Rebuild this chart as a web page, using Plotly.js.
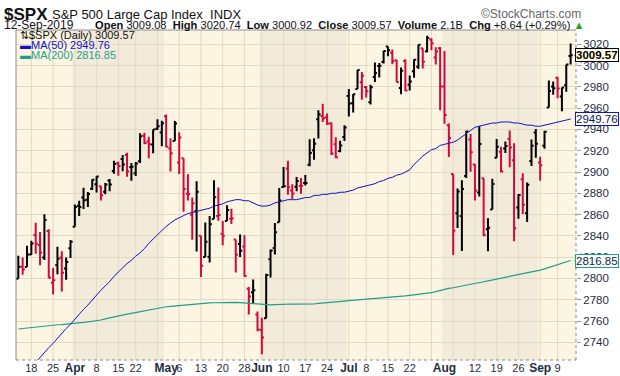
<!DOCTYPE html>
<html><head><meta charset="utf-8">
<script src="https://cdn.plot.ly/plotly-3.0.1.min.js"></script>
<style>html,body{margin:0;padding:0;background:#fff}#chart{width:620px;height:376px}</style>
</head><body><div id="chart"></div>
<script>
const dates = [
"2019-03-13","2019-03-14","2019-03-15","2019-03-18","2019-03-19","2019-03-20","2019-03-21","2019-03-22","2019-03-25","2019-03-26","2019-03-27","2019-03-28","2019-03-29",
"2019-04-01","2019-04-02","2019-04-03","2019-04-04","2019-04-05","2019-04-08","2019-04-09","2019-04-10","2019-04-11","2019-04-12","2019-04-15","2019-04-16","2019-04-17","2019-04-18","2019-04-22","2019-04-23","2019-04-24","2019-04-25","2019-04-26","2019-04-29","2019-04-30",
"2019-05-01","2019-05-02","2019-05-03","2019-05-06","2019-05-07","2019-05-08","2019-05-09","2019-05-10","2019-05-13","2019-05-14","2019-05-15","2019-05-16","2019-05-17","2019-05-20","2019-05-21","2019-05-22","2019-05-23","2019-05-24","2019-05-28","2019-05-29","2019-05-30","2019-05-31",
"2019-06-03","2019-06-04","2019-06-05","2019-06-06","2019-06-07","2019-06-10","2019-06-11","2019-06-12","2019-06-13","2019-06-14","2019-06-17","2019-06-18","2019-06-19","2019-06-20","2019-06-21","2019-06-24","2019-06-25","2019-06-26","2019-06-27","2019-06-28",
"2019-07-01","2019-07-02","2019-07-03","2019-07-05","2019-07-08","2019-07-09","2019-07-10","2019-07-11","2019-07-12","2019-07-15","2019-07-16","2019-07-17","2019-07-18","2019-07-19","2019-07-22","2019-07-23","2019-07-24","2019-07-25","2019-07-26","2019-07-29","2019-07-30","2019-07-31",
"2019-08-01","2019-08-02","2019-08-05","2019-08-06","2019-08-07","2019-08-08","2019-08-09","2019-08-12","2019-08-13","2019-08-14","2019-08-15","2019-08-16","2019-08-19","2019-08-20","2019-08-21","2019-08-22","2019-08-23","2019-08-26","2019-08-27","2019-08-28","2019-08-29","2019-08-30",
"2019-09-03","2019-09-04","2019-09-05","2019-09-06","2019-09-09","2019-09-10","2019-09-11","2019-09-12"];

const openP = [
2799.78,2811.02,2810.79,2822.61,2840.76,2831.34,2819.72,2844.52,2796.01,2812.66,2819.72,2809.40,2828.27,
2848.63,2868.24,2876.09,2873.99,2884.16,2888.46,2886.58,2881.37,2891.92,2900.86,2908.32,2912.26,2916.04,2904.81,2898.78,2909.99,2934.00,2928.99,2925.81,2940.58,2937.14,
2952.33,2922.16,2929.21,2908.89,2913.03,2879.61,2859.84,2863.10,2840.19,2820.12,2820.38,2855.80,2858.60,2841.94,2854.02,2856.06,2836.70,2832.41,2830.03,2790.25,2786.94,2766.15,
2751.53,2762.64,2818.09,2828.51,2852.87,2885.83,2903.27,2882.73,2886.24,2886.82,2889.75,2906.71,2920.55,2949.60,2952.71,2951.42,2945.78,2926.07,2919.66,2932.94,
2971.41,2964.66,2978.08,2984.25,2979.77,2965.52,2989.30,2999.62,3003.36,3017.80,3012.13,3005.10,2978.87,3004.26,2981.93,2994.74,2998.77,3016.26,3013.25,3024.47,3007.66,3016.22,
2980.32,2943.90,2898.07,2861.18,2858.65,2896.21,2930.51,2907.07,2880.72,2894.15,2846.20,2864.74,2913.48,2919.01,2922.04,2930.94,2911.07,2866.70,2893.14,2861.28,2910.37,2937.09,
2909.01,2924.67,2960.60,2980.33,2988.43,2971.01,2981.41,3009.08];

const highP = [
2821.24,2819.72,2830.73,2835.41,2852.42,2843.54,2860.31,2846.16,2809.79,2829.87,2825.56,2819.71,2836.03,
2869.40,2872.90,2885.25,2881.28,2893.24,2895.95,2886.88,2889.71,2893.42,2910.54,2909.60,2916.06,2918.00,2908.40,2909.51,2936.31,2936.83,2933.10,2939.88,2949.52,2948.22,
2954.13,2931.68,2947.85,2937.32,2913.03,2897.96,2875.97,2891.31,2840.19,2852.54,2858.68,2892.15,2885.48,2853.86,2868.88,2865.47,2836.70,2841.36,2840.51,2792.03,2799.00,2768.98,
2763.07,2804.49,2827.28,2852.10,2884.97,2904.77,2910.61,2888.57,2895.24,2894.45,2897.27,2930.79,2931.74,2958.06,2964.15,2954.92,2946.52,2932.59,2929.30,2943.98,
2977.93,2973.21,2995.84,2994.03,2980.76,2981.90,3002.98,3002.33,3013.92,3017.80,3015.02,3005.26,2998.28,3006.02,2990.71,3005.90,3019.59,3016.31,3027.98,3025.61,3017.19,3017.40,
3013.59,2945.50,2898.07,2884.40,2892.17,2938.72,2935.75,2907.58,2943.31,2894.15,2856.67,2893.63,2931.00,2923.63,2928.73,2939.08,2927.01,2879.27,2898.79,2890.03,2930.50,2940.43,
2914.39,2938.84,2985.86,2985.03,2989.43,2979.39,3000.93,3020.74];

const lowP = [
2799.78,2803.46,2810.79,2821.99,2823.27,2812.43,2817.38,2800.53,2785.02,2803.99,2787.72,2798.77,2819.23,
2848.63,2858.75,2865.17,2867.14,2882.99,2880.78,2873.33,2879.13,2881.99,2898.37,2896.48,2900.71,2895.45,2891.90,2896.35,2908.53,2926.05,2912.84,2917.56,2939.35,2924.11,
2923.36,2900.50,2929.21,2898.21,2862.60,2873.28,2836.40,2825.39,2801.43,2820.12,2815.08,2855.80,2854.23,2831.29,2854.02,2851.11,2805.49,2820.19,2801.58,2766.06,2776.74,2750.52,
2728.81,2762.64,2800.92,2822.45,2852.87,2885.51,2878.53,2874.68,2881.99,2879.62,2887.30,2905.44,2911.43,2931.50,2946.87,2944.05,2916.01,2912.99,2918.57,2929.05,
2952.22,2955.92,2977.96,2967.97,2970.09,2963.44,2984.62,2988.80,3001.87,3008.77,3001.15,2984.25,2973.09,2975.86,2976.65,2988.56,2996.82,2997.24,3012.59,3014.30,3000.94,2958.08,
2945.23,2914.11,2822.12,2847.42,2825.71,2894.47,2900.15,2873.14,2877.05,2839.64,2825.51,2864.74,2913.48,2899.60,2917.91,2904.51,2834.97,2856.00,2860.59,2853.05,2905.67,2913.32,
2891.85,2921.86,2960.60,2972.51,2969.39,2957.01,2975.31,3000.92];

const closeP = [
2810.92,2808.48,2822.48,2832.94,2832.57,2824.23,2854.88,2800.71,2798.36,2818.46,2805.37,2815.44,2834.40,
2867.19,2867.24,2873.40,2879.39,2892.74,2895.77,2878.20,2888.21,2888.32,2907.41,2905.58,2907.06,2900.45,2905.03,2907.97,2933.68,2927.25,2926.17,2939.88,2943.03,2945.83,
2923.73,2917.52,2945.64,2932.47,2884.05,2879.42,2870.72,2881.40,2811.87,2834.41,2850.96,2876.32,2859.53,2840.23,2864.36,2856.27,2822.24,2826.06,2802.39,2783.02,2788.86,2752.06,
2744.45,2803.27,2826.15,2843.49,2873.34,2886.73,2885.72,2879.84,2891.64,2886.98,2889.67,2917.75,2926.46,2954.18,2950.46,2945.35,2917.38,2913.78,2924.92,2941.76,
2964.33,2973.01,2995.82,2990.41,2975.95,2979.63,2993.07,2999.91,3013.77,3014.30,3004.04,2984.42,2995.11,2976.61,2985.03,3005.47,3019.56,3003.67,3025.86,3020.97,3013.18,2980.38,
2953.56,2932.05,2844.74,2881.77,2883.98,2938.09,2918.65,2882.70,2926.32,2840.60,2847.60,2888.68,2923.65,2900.51,2924.43,2922.95,2847.11,2878.38,2869.16,2887.94,2924.58,2926.46,
2906.27,2937.78,2976.00,2978.71,2978.43,2979.39,3000.93,3009.57];

const priorClose = 2791.52;

const ma50 = [
2703,2707,2712,2716,2721,2726,2730,2735,2739,2744,2748,2753,2757,
2762,2766,2771,2775,2780,2784,2789,2793,2797,2802,2806,2810,2814,2817,2821,2824,2828,2833,2837,2841,2845,
2849,2852,2855,2857,2859,2861,2862,2863,2864,2865,2866,2868,2869,2870,2872,2873,2874,2874,2873,2873,2871,2869,
2868,2868,2869,2871,2872,2873,2874,2874,2874,2875,2876,2876,2878,2878,2879,2879,2880,2880,2881,2881,
2882,2883,2885,2886,2887,2888,2889,2891,2892,2894,2895,2897,2898,2900,2902,2907,2911,2915,2918,2921,2922,2925,
2926,2927,2928,2930,2933,2936,2939,2942,2943,2944,2945,2946,2946,2947,2947,2947,2946,2946,2945,2944,2944,2943,
2943,2944,2945,2946,2947,2948,2949,2949.76];

const ma200 = [
2752.5,2753,2753.5,2754,2754.5,2755,2755.5,2756,2756.2,2756.5,2756.7,2757,2757.2,
2757.7,2758.2,2758.7,2759.2,2759.7,2760.2,2761,2762,2763,2764,2765,2765.8,2766.5,2767.2,2768,2768.8,2769.6,2770.3,2771.2,2772.2,2773,
2773.4,2773.8,2774.2,2774.6,2775,2775.4,2776,2776.4,2776.6,2776.8,2777,2777.2,2777.4,2777.5,2777.6,2777.6,2777.5,2777.3,2777,2776.6,2776.2,2775.7,
2775.3,2775,2775.2,2775.5,2775.8,2776,2776,2776,2775.9,2775.8,2775.7,2775.7,2776,2776.5,2777,2777.4,2777.7,2778.1,2778.5,2778.8,
2779.1,2779.4,2779.7,2780,2780.3,2780.6,2780.9,2781.2,2781.5,2781.9,2782.3,2782.8,2783.2,2783.7,2784.2,2784.6,2785.1,2785.6,2786.1,2786.6,2787.6,2788.8,
2790,2790.6,2791.3,2792,2792.7,2793.4,2794.2,2795.1,2796,2796.9,2797.8,2798.6,2799.5,2800.3,2801.2,2802,2803,2803.9,2804.5,2805.2,2805.8,2806.5,
2807.9,2809,2810.2,2811.4,2812.6,2814,2815.4,2816.85];

const tickDates = ["2019-03-18","2019-03-25","2019-04-01","2019-04-08","2019-04-15","2019-04-22","2019-05-01","2019-05-06","2019-05-13","2019-05-20","2019-05-28","2019-06-03","2019-06-10","2019-06-17","2019-06-24","2019-07-01","2019-07-08","2019-07-15","2019-07-22","2019-08-01","2019-08-12","2019-08-19","2019-08-26","2019-09-03","2019-09-09"];
const tickLabels = ["18","25","Apr","8","15","22","May","6","13","20","28","Jun","10","17","24","Jul","8","15","22","Aug","12","19","26","Sep","9"];
const shadedMonths = ["04","06","08"];

const upCol = "#000000", dnCol = "#d4083c";
const ma50Col = "#1212c8", ma200Col = "#1f9e8c";
const gridCol = "#e3d9c4";
const FONT = "Liberation Sans, Arial, sans-serif";

const up = {x:[],open:[],high:[],low:[],close:[]};
const dn = {x:[],open:[],high:[],low:[],close:[]};
for (let i = 0; i < dates.length; i++) {
  const pc = i === 0 ? priorClose : closeP[i-1];
  const t = closeP[i] >= pc ? up : dn;
  t.x.push(i); t.open.push(openP[i]); t.high.push(highP[i]); t.low.push(lowP[i]); t.close.push(closeP[i]);
}
function ohlcTrace(d, col) {
  return Object.assign({type:"ohlc", tickwidth:0.5, hoverinfo:"skip", showlegend:false,
    line:{width:2}, increasing:{line:{color:col,width:2}}, decreasing:{line:{color:col,width:2}}}, d);
}
const xs = dates.map((d,i)=>i);
const traces = [
  {type:"scatter", mode:"lines", x:xs, y:ma200, line:{color:ma200Col,width:1.2}, hoverinfo:"skip", showlegend:false},
  {type:"scatter", mode:"lines", x:xs, y:ma50, line:{color:ma50Col,width:1}, hoverinfo:"skip", showlegend:false},
  ohlcTrace(up, upCol),
  ohlcTrace(dn, dnCol)
];

const shapes = [];
shadedMonths.forEach(m => {
  const ids = dates.map((d,i)=>[d,i]).filter(p=>p[0].slice(5,7)===m).map(p=>p[1]);
  shapes.push({type:"rect", xref:"x", yref:"paper", x0:ids[0]-0.5, x1:ids[ids.length-1]+0.5, y0:0, y1:1,
    fillcolor:"#f3ebda", line:{width:0}, layer:"below"});
});
const wd = dates.map(d => new Date(d+"T00:00:00Z").getUTCDay());
for (let i = 1; i < dates.length; i++) {
  if (wd[i] < wd[i-1]) shapes.push({type:"line", xref:"x", yref:"paper", x0:i, x1:i, y0:0, y1:1, line:{color:gridCol,width:1}, layer:"below"});
}
shapes.push({type:"line", xref:"paper", yref:"paper", x0:0, x1:0, y0:0, y1:1, line:{color:"#8a8a8a",width:1}});
shapes.push({type:"line", xref:"paper", yref:"paper", x0:0, x1:1, y0:1, y1:1, line:{color:"#8a8a8a",width:1}});
shapes.push({type:"line", xref:"paper", yref:"paper", x0:1, x1:1, y0:0, y1:1, line:{color:"#8a8a8a",width:1,dash:"dot"}});
shapes.push({type:"line", xref:"paper", yref:"paper", x0:0, x1:1, y0:0, y1:0, line:{color:"#8a8a8a",width:1,dash:"dot"}});

const last = dates.length - 1;
const lastVals = [
  {v:closeP[last], border:"#000000", txt:"#000000", bg:"#fffbe3", bold:true},
  {v:ma50[last], border:ma50Col, txt:"#0a1a50", bg:"#ffffff", bold:false},
  {v:ma200[last], border:ma200Col, txt:"#0a2a40", bg:"#ffffff", bold:false}
];
const px = 1/560;
lastVals.forEach(o => {
  shapes.push({type:"path", xref:"paper", yref:"y",
    path:`M ${1-1*px},${o.v} L ${1+5*px},${o.v+6.5} L ${1+5*px},${o.v-6.5} Z`,
    fillcolor:o.bg, line:{color:o.border,width:1}});
});

const annotations = [];
lastVals.forEach(o => {
  annotations.push({xref:"paper", yref:"y", x:1, y:o.v, xanchor:"right", yanchor:"middle", xshift:43,
    text: o.bold ? `<b>${o.v.toFixed(2)}</b>` : o.v.toFixed(2), showarrow:false,
    font:{family:FONT,size:11.5,color:o.txt}, bgcolor:o.bg, bordercolor:o.border, borderwidth:1, borderpad:0});
});
annotations.push({xref:"paper", yref:"paper", x:0, y:1, xshift:-14, yshift:16, xanchor:"left", yanchor:"middle", showarrow:false,
  text:"<b>$SPX</b>", font:{family:FONT,size:17,color:"#111"}});
annotations.push({xref:"paper", yref:"paper", x:0, y:1, xshift:34, yshift:16, xanchor:"left", yanchor:"middle", showarrow:false,
  text:"S&amp;P 500 Large Cap Index&nbsp;&nbsp;INDX", font:{family:FONT,size:13,color:"#111"}});
annotations.push({xref:"paper", yref:"paper", x:1, y:1, xshift:7, yshift:16, xanchor:"right", yanchor:"middle", showarrow:false,
  text:"©StockCharts.com", font:{family:FONT,size:12,color:"#666"}});
annotations.push({xref:"paper", yref:"paper", x:0, y:1, xshift:-14, yshift:5, xanchor:"left", yanchor:"middle", showarrow:false,
  text:"12-Sep-2019", font:{family:FONT,size:12,color:"#111"}});
annotations.push({xref:"paper", yref:"paper", x:0, y:1, xshift:77, yshift:5, xanchor:"left", yanchor:"middle", showarrow:false,
  text:"<b>Open</b> 3009.08 &nbsp;<b>High</b> 3020.74 &nbsp;<b>Low</b> 3000.92 &nbsp;<b>Close</b> 3009.57 &nbsp;<b>Volume</b> 2.1B &nbsp;<b>Chg</b> +8.64 (+0.29%) <span style=\"color:#22a022\">▲</span>",
  font:{family:FONT,size:11.1,color:"#111"}});
const legRows = [
  {t:"⇅$SPX (Daily) " + closeP[last].toFixed(2), c:"#111"},
  {t:`<span style="color:${ma50Col}">▬</span>MA(50) ` + ma50[last].toFixed(2), c:ma50Col},
  {t:`<span style="color:${ma200Col}">▬</span>MA(200) ` + ma200[last].toFixed(2), c:ma200Col}
];
legRows.forEach((r,k) => {
  annotations.push({xref:"paper", yref:"paper", x:0, y:1, xshift:2, yshift:-5-k*10, xanchor:"left", yanchor:"middle", showarrow:false,
    text:r.t, font:{family:FONT,size:11,color:r.c}});
});

const tickPos = tickDates.map(d => dates.indexOf(d));
const tickText = tickLabels.map(s => /^[A-Za-z]/.test(s) ? `<b><span style="font-size:12px">${s}</span></b>` : s);

const layout = {
  width:620, height:376,
  margin:{l:16, r:44, t:30, b:16, pad:0},
  paper_bgcolor:"#ffffff", plot_bgcolor:"#fcf5e2",
  showlegend:false,
  font:{family:FONT, size:11, color:"#1f2d3d"},
  xaxis:{range:[-0.53,128.24], tickvals:tickPos, ticktext:tickText, showgrid:false, zeroline:false,
    ticks:"", ticklen:0, showline:false, rangeslider:{visible:false}, fixedrange:true, tickangle:0,
    tickfont:{family:FONT,size:11,color:"#1f2d3d"}},
  yaxis:{range:[2723.4,3033.4], side:"right", tick0:2740, dtick:20, showgrid:true, gridcolor:gridCol, gridwidth:1,
    zeroline:false, showline:false, ticks:"outside", ticklen:4, tickcolor:"#999",
    tickfont:{family:FONT,size:11.5,color:"#1f2d3d"}},
  shapes:shapes, annotations:annotations
};
Plotly.newPlot("chart", traces, layout, {staticPlot:true, displayModeBar:false});
</script></body></html>
